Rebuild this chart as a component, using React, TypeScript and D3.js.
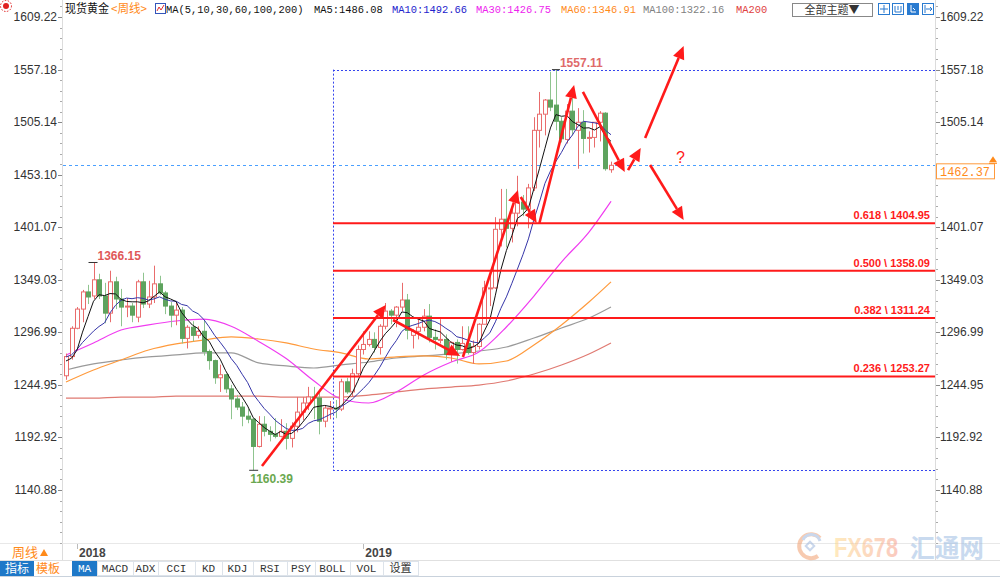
import React from 'react';
import * as d3 from 'd3';

// weekly XAU/USD, first candle = week of 2017-12-18
const priorCloses = [1280, 1266, 1269, 1275, 1293, 1287, 1280, 1248, 1255];
const opens = [1254, 1273, 1301, 1320, 1337, 1333, 1349, 1333, 1316, 1347, 1330, 1322, 1323, 1312, 1347, 1325, 1332, 1345, 1336, 1323,
  1314, 1319, 1291, 1302, 1294, 1298, 1278, 1269, 1252, 1255, 1241, 1231, 1223, 1214, 1211, 1184, 1206, 1199, 1196, 1194,
  1199, 1192, 1204, 1218, 1227, 1233, 1232, 1209, 1222, 1222, 1221, 1248, 1238, 1256, 1280, 1285, 1290, 1282, 1303, 1318,
  1314, 1322, 1329, 1294, 1298, 1302, 1313, 1292, 1290, 1290, 1275, 1287, 1280, 1286, 1277, 1283, 1305, 1341, 1341, 1399,
  1409, 1400, 1415, 1426, 1419, 1440, 1497, 1513, 1527, 1522, 1506, 1488, 1516, 1497, 1505, 1489, 1490, 1505, 1514, 1458];
const highs = [1276, 1303, 1322, 1339, 1344, 1366.15, 1355, 1346, 1358, 1352, 1340, 1331, 1326, 1349, 1356, 1348, 1363, 1353, 1338, 1327,
  1326, 1322, 1304, 1308, 1303, 1309, 1280, 1270, 1265, 1256, 1245, 1235, 1228, 1221, 1212, 1214, 1214, 1204, 1212, 1211,
  1207, 1208, 1233, 1233, 1243, 1243, 1237, 1225, 1229, 1230, 1251, 1252, 1261, 1284, 1298, 1298, 1297, 1305, 1326, 1320,
  1323, 1346, 1335, 1300, 1311, 1320, 1325, 1300, 1310, 1295, 1288, 1290, 1303, 1303, 1289, 1306, 1348, 1358, 1411, 1439,
  1439, 1420, 1452, 1433, 1444, 1510, 1535, 1528, 1555, 1557.11, 1510, 1523, 1535, 1519, 1517, 1496, 1505, 1516, 1515, 1466];
const lows = [1250, 1270, 1300, 1307, 1325, 1330, 1330, 1306, 1307, 1320, 1303, 1312, 1307, 1307, 1321, 1321, 1326, 1334, 1315, 1302,
  1304, 1286, 1281, 1288, 1291, 1274, 1260, 1246, 1238, 1237, 1211, 1220, 1204, 1207, 1160.39, 1183, 1194, 1189, 1192, 1193,
  1181, 1183, 1198, 1210, 1220, 1211, 1196, 1203, 1211, 1212, 1219, 1236, 1234, 1254, 1275, 1283, 1277, 1275, 1300, 1305,
  1302, 1318, 1290, 1281, 1290, 1298, 1287, 1280, 1286, 1270, 1268, 1266, 1279, 1275, 1266, 1280, 1305, 1323, 1340, 1382,
  1381, 1386, 1402, 1412, 1400, 1437, 1480, 1492, 1516, 1497, 1485, 1484, 1492, 1459, 1474, 1475, 1480, 1486, 1457, 1455];
const closes = [1273, 1301, 1320, 1337, 1332, 1349, 1333, 1316, 1347, 1330, 1322, 1323, 1314, 1347, 1325, 1332, 1345, 1336, 1323, 1314,
  1319, 1291, 1302, 1294, 1298, 1278, 1269, 1252, 1255, 1241, 1231, 1223, 1214, 1211, 1184, 1206, 1199, 1196, 1194, 1199,
  1192, 1204, 1218, 1227, 1233, 1232, 1209, 1222, 1222, 1221, 1248, 1238, 1256, 1280, 1285, 1290, 1282, 1303, 1318, 1314,
  1322, 1329, 1299, 1298, 1302, 1313, 1292, 1290, 1290, 1275, 1287, 1280, 1286, 1277, 1283, 1305, 1341, 1341, 1399, 1409,
  1400, 1415, 1426, 1419, 1440, 1497, 1513, 1527, 1520, 1506, 1488.6, 1516, 1497.6, 1505, 1489, 1490, 1505, 1514, 1459, 1462.37];

// longer moving averages, every 5 weeks
const maSampleIdx = [0, 5, 10, 15, 20, 25, 30, 35, 40, 45, 50, 55, 60, 65, 70, 75, 80, 85, 90, 95, 99];
const ma30 = [1274.5, 1286.5, 1299.3, 1304.3, 1308.2, 1310, 1303, 1288, 1271, 1249, 1231, 1227, 1237.9, 1254.8, 1267.6, 1277.5, 1302.3, 1332.9, 1366.6, 1396.3, 1426.75];
const ma60 = [1247.8, 1259.7, 1269.6, 1279.5, 1285.5, 1289.4, 1292.4, 1290.4, 1286.5, 1280.5, 1276.6, 1270.6, 1272.6, 1273.6, 1271.6, 1265.7, 1268.6, 1284.5, 1304.3, 1327.0, 1346.91];
const ma100 = [1259.7, 1265.7, 1269.6, 1272.6, 1274.6, 1276.6, 1276.6, 1266.7, 1263.7, 1261.7, 1264.7, 1267.6, 1271.6, 1273.6, 1275.6, 1278.5, 1282.5, 1291.4, 1301.3, 1311.2, 1322.16];
const ma200 = [1231.9, 1231.9, 1232.9, 1232.9, 1233.9, 1233.9, 1233.9, 1233.9, 1232.9, 1232.9, 1232.9, 1234.9, 1237.9, 1240.8, 1242.8, 1244.8, 1248.8, 1255.7, 1264.7, 1275.6, 1286.5];

const yTicks = [1609.22, 1557.18, 1505.14, 1453.10, 1401.07, 1349.03, 1296.99, 1244.95, 1192.92, 1140.88];
const yearIdx = [2, 54];
const yearLabels = ['2018', '2019'];
const fibRatios = ['0.618', '0.500', '0.382', '0.236'];
const fibPrices = [1404.95, 1358.09, 1311.24, 1253.27];
const lastPrice = 1462.37;
const boxStartIdx = 48.5;
const rangeHigh = 1557.11;
const rangeLow = 1160.39;

// hand-drawn arrows, [week index, price] -> [week index, price]
const arrowFrom = [[35.6, 1164.7], [59.4, 1309.2], [72.1, 1272.6], [82.6, 1431], [86.0, 1405.2], [93.9, 1535], [102.1, 1457.7], [105.2, 1489.4], [106.1, 1462.7]];
const arrowTo = [[58.1, 1324.1], [71.6, 1273.6], [82.1, 1437.9], [85.5, 1405.2], [92.3, 1541.9], [101.5, 1455.8], [104.4, 1479.5], [112.2, 1580.5], [112.2, 1408.2]];

const legendTexts = ['MA(5,10,30,60,100,200)', 'MA5:1486.08', 'MA10:1492.66', 'MA30:1426.75', 'MA60:1346.91', 'MA100:1322.16', 'MA200'];
const toolLabels = ['MACD', 'ADX', 'CCI', 'KD', 'KDJ', 'RSI', 'PSY', 'BOLL', 'VOL', '设置'];

const UP = '#e96c6c';
const DOWN = '#5ea35e';
const MONO = '"Liberation Mono", "DejaVu Sans Mono", monospace';
const SANS = '"Liberation Sans", Arial, sans-serif';
const CJK = '"Noto Sans CJK SC", sans-serif';

const x = d3.scaleLinear().domain([0, 99]).range([66, 611]);
const y = d3.scaleLinear().domain([1140.88, 1609.22]).range([490, 17]);

const allCloses = [...priorCloses, ...closes];
const movingAvg = (n: number) =>
  closes.map((_, i) => d3.mean(allCloses.slice(i + priorCloses.length - n + 1, i + priorCloses.length + 1)) as number);
const ma5 = movingAvg(5);
const ma10 = movingAvg(10);

const fullLine = d3.line<number>().x((_, i) => x(i)).y(v => y(v));
const sampledLine = d3.line<number>().x((_, k) => x(maSampleIdx[k])).y(v => y(v)).curve(d3.curveMonotoneX);

const Arrow = ({ from, to }: { from: number[]; to: number[] }) => {
  const x1 = x(from[0]), y1 = y(from[1]), x2 = x(to[0]), y2 = y(to[1]);
  const a = Math.atan2(y2 - y1, x2 - x1);
  const len = 13, hw = 6;
  const bx = x2 - len * Math.cos(a), by = y2 - len * Math.sin(a);
  const px = -Math.sin(a) * hw, py = Math.cos(a) * hw;
  return (
    <g>
      <line x1={x1} y1={y1} x2={bx} y2={by} stroke="#ff1a1a" strokeWidth={2.6} />
      <polygon points={`${x2},${y2} ${bx + px},${by + py} ${bx - px},${by - py}`} fill="#ff1a1a" />
    </g>
  );
};

const App = () => {
  const minor = d3.range(0, 9).flatMap(k => d3.range(1, 5).map(j => yTicks[k] - (j * (yTicks[k] - yTicks[k + 1])) / 5));
  minor.push(...[1, 2].map(j => yTicks[0] + (j * 52.04) / 5));
  minor.push(...[1, 2, 3, 4, 5].map(j => yTicks[9] - (j * 52.04) / 5));
  const legendX = [166, 314, 392, 476, 561, 643, 736];
  const legendColors = ['#111', '#111', '#2222cc', '#ee22ee', '#ff8a1a', '#808080', '#e04040'];
  const toolEdges = [97, 133, 158, 195, 222, 253, 287, 315, 350, 383, 418];
  const tagY = y(lastPrice) + 6;

  return (
    <svg width={1000} height={577} style={{ position: 'absolute', left: 0, top: 0, background: '#fff' }}>
      <defs>
        <linearGradient id="fxg" x1="0" x2="1" y1="0" y2="0">
          <stop offset="0" stopColor="#ffd98a" />
          <stop offset="1" stopColor="#f7a08c" />
        </linearGradient>
      </defs>
      <rect width={1000} height={577} fill="#fff" />

      {/* frame lines */}
      <line x1={62.5} x2={62.5} y1={0} y2={560} stroke="#dcdcdc" />
      <line x1={935.5} x2={935.5} y1={0} y2={560} stroke="#dcdcdc" />
      <line x1={0} x2={1000} y1={543.5} y2={543.5} stroke="#e8e8e8" />
      <line x1={0} x2={1000} y1={560.5} y2={560.5} stroke="#e0e0e0" />

      {/* axes */}
      {yTicks.map(t => (
        <g key={t}>
          <text x={57} y={y(t) + 4} textAnchor="end" fontFamily={SANS} fontSize={12} fill="#333">{t.toFixed(2)}</text>
          <line x1={58} x2={62} y1={Math.round(y(t)) + 0.5} y2={Math.round(y(t)) + 0.5} stroke="#888" />
          <line x1={936} x2={940} y1={Math.round(y(t)) + 0.5} y2={Math.round(y(t)) + 0.5} stroke="#888" />
          {Math.abs(y(t) - tagY) > 10 && (
            <text x={940} y={y(t) + 4} fontFamily={SANS} fontSize={12} fill="#333">{t.toFixed(2)}</text>
          )}
        </g>
      ))}
      {minor.map((t, k) => (
        <g key={k}>
          <line x1={60} x2={62} y1={Math.round(y(t)) + 0.5} y2={Math.round(y(t)) + 0.5} stroke="#aaa" />
          <line x1={936} x2={938} y1={Math.round(y(t)) + 0.5} y2={Math.round(y(t)) + 0.5} stroke="#aaa" />
        </g>
      ))}

      {/* last price line and box */}
      <line x1={63} x2={935} y1={Math.round(y(lastPrice)) + 0.5} y2={Math.round(y(lastPrice)) + 0.5} stroke="#4aa0ff" strokeDasharray="3,3" />
      <line x1={x(boxStartIdx)} x2={935} y1={Math.round(y(rangeHigh)) + 0.5} y2={Math.round(y(rangeHigh)) + 0.5} stroke="#3344ee" strokeDasharray="2,2" />
      <line x1={x(boxStartIdx)} x2={935} y1={Math.round(y(rangeLow)) + 0.5} y2={Math.round(y(rangeLow)) + 0.5} stroke="#3344ee" strokeDasharray="2,2" />
      <line x1={Math.round(x(boxStartIdx)) + 0.5} x2={Math.round(x(boxStartIdx)) + 0.5} y1={y(rangeHigh)} y2={y(rangeLow)} stroke="#3344ee" strokeDasharray="2,2" />

      {/* moving averages */}
      <path d={sampledLine(ma200) || ''} fill="none" stroke="#e07a72" strokeWidth={1.2} />
      <path d={sampledLine(ma100) || ''} fill="none" stroke="#9a9a9a" strokeWidth={1.2} />
      <path d={sampledLine(ma60) || ''} fill="none" stroke="#ff9a3c" strokeWidth={1.2} />
      <path d={sampledLine(ma30) || ''} fill="none" stroke="#f03cf0" strokeWidth={1.2} />

      {/* candles */}
      {closes.map((c, i) => {
        const o = opens[i];
        const up = c >= o;
        const cx = Math.round(x(i)) + 0.5;
        const top = y(Math.max(o, c)), bot = y(Math.min(o, c));
        const col = up ? UP : DOWN;
        return (
          <g key={i}>
            <line x1={cx} x2={cx} y1={y(highs[i])} y2={y(lows[i])} stroke={up ? UP : '#8fc48f'} />
            <rect x={cx - 2} y={top} width={4} height={Math.max(1, bot - top)} fill={up ? '#fff' : col} stroke={col} strokeWidth={1} />
          </g>
        );
      })}

      <path d={fullLine(ma10) || ''} fill="none" stroke="#3535a8" strokeWidth={1} />
      <path d={fullLine(ma5) || ''} fill="none" stroke="#111" strokeWidth={1} />

      {/* fibonacci levels */}
      {fibPrices.map((p, k) => (
        <g key={p}>
          <line x1={x(boxStartIdx)} x2={935} y1={y(p)} y2={y(p)} stroke="#ff1a1a" strokeWidth={2} />
          <text x={930} y={y(p) - 4} textAnchor="end" fontFamily={SANS} fontWeight="bold" fontSize={11} fill="#ff1a1a">
            {`${fibRatios[k]} \\ ${p.toFixed(2)}`}
          </text>
        </g>
      ))}

      {/* extremes */}
      <line x1={x(5) - 5} x2={x(5) + 4} y1={y(1366.15)} y2={y(1366.15)} stroke="#333" />
      <text x={x(5) + 4} y={y(1366.15) - 2} fontFamily={SANS} fontWeight="bold" fontSize={12} fill="#e05858">1366.15</text>
      <line x1={x(34) - 4} x2={x(34) + 5} y1={y(1160.39)} y2={y(1160.39)} stroke="#333" />
      <text x={x(34) - 3} y={y(1160.39) + 13} fontFamily={SANS} fontWeight="bold" fontSize={12} fill="#6aa84f">1160.39</text>
      <line x1={x(89) - 4} x2={x(89) + 4} y1={y(1557.11)} y2={y(1557.11)} stroke="#333" />
      <text x={x(89) + 4} y={y(1557.11) - 3} fontFamily={SANS} fontWeight="bold" fontSize={12} fill="#e06a6a">1557.11</text>

      {/* drawn arrows */}
      {arrowFrom.map((f, k) => <Arrow key={k} from={f} to={arrowTo[k]} />)}
      <text x={x(110.8)} y={y(1470.6) + 6} fontFamily={SANS} fontSize={16} fill="#ff1a1a">?</text>

      {/* last price tag */}
      <rect x={936.5} y={tagY - 7.5} width={58} height={15} fill="#fff" stroke="#ff9a3c" />
      <text x={940} y={tagY + 4.5} fontFamily={MONO} fontSize={12} fill="#ff8a1a" textLength={50} lengthAdjust="spacingAndGlyphs">1462.37</text>
      <polygon points={`989,${tagY - 9} 993,${tagY - 15} 997,${tagY - 9}`} fill="#ff8a1a" />
      <line x1={989} x2={997} y1={tagY - 8} y2={tagY - 8} stroke="#ff8a1a" />

      {/* top legend */}
      <circle cx={6} cy={6} r={3} fill="#e02020" />
      <circle cx={6} cy={6} r={5.5} fill="none" stroke="#e02020" strokeDasharray="1.5,1.5" />
      <text x={65} y={13} fontFamily={CJK} fontSize={12} fill="#111" textLength={44} lengthAdjust="spacingAndGlyphs">现货黄金</text>
      <text x={111} y={13} fontFamily={CJK} fontSize={12} fill="#ff8a1a" textLength={36} lengthAdjust="spacingAndGlyphs">{'<周线>'}</text>
      <rect x={155.5} y={3.5} width={10} height={10} fill="#fff" stroke="#3355bb" />
      <polyline points="157,11 159,7 161,10 164,5" fill="none" stroke="#e03030" />
      {legendTexts.map((t, k) => (
        <text key={t} x={legendX[k]} y={13} fontFamily={MONO} fontSize={11} fill={legendColors[k]} textLength={t.length * 6.25} lengthAdjust="spacingAndGlyphs">{t}</text>
      ))}
      <rect x={792.5} y={3.5} width={80} height={13} fill="#fff" stroke="#888" />
      <text x={832} y={14} textAnchor="middle" fontFamily={CJK} fontSize={11} fill="#333">全部主题▼</text>
      {[878, 892, 907, 922].map((bx, k) => (
        <g key={bx}>
          <rect x={bx + 0.5} y={3.5} width={11} height={11} fill={k === 2 ? '#2a7bd0' : '#fff'} stroke="#2a7bd0" />
          {k === 0 && <path d={`M${bx + 6},5 V13 M${bx + 2},9 H${bx + 10}`} stroke="#2a7bd0" />}
          {k === 1 && <path d={`M${bx + 3},6 V12 H${bx + 9} V6 M${bx + 6},6 V10`} stroke="#2a7bd0" fill="none" />}
          {k === 2 && <path d={`M${bx + 4},5 V12 H${bx + 9} M${bx + 6},8 l2,2`} stroke="#fff" fill="none" />}
          {k === 3 && <path d={`M${bx + 3},5 V13 M${bx + 4},9 H${bx + 10} M${bx + 8},7 l2,2 l-2,2`} stroke="#2a7bd0" fill="none" />}
        </g>
      ))}

      {/* date axis */}
      {yearIdx.map((i, k) => (
        <g key={i}>
          <line x1={Math.round(x(i)) + 0.5} x2={Math.round(x(i)) + 0.5} y1={544} y2={549} stroke="#bbb" />
          <text x={x(i) + 2} y={557} fontFamily={SANS} fontWeight="bold" fontSize={12} fill="#444">{yearLabels[k]}</text>
        </g>
      ))}
      <text x={12} y={557} fontFamily={CJK} fontSize={13} fill="#ff8a1a">周线</text>
      <polygon points="40,556 44,549 48,556" fill="#ff8a1a" />

      {/* bottom toolbar */}
      <rect x={0} y={561} width={34} height={15} fill="#1e78c8" />
      <text x={17} y={573} textAnchor="middle" fontFamily={CJK} fontSize={12} fill="#fff">指标</text>
      <text x={48} y={573} textAnchor="middle" fontFamily={CJK} fontSize={12} fill="#ff8a1a">模板</text>
      <rect x={72} y={561} width={25} height={15} fill="#1e78c8" />
      <text x={84.5} y={572} textAnchor="middle" fontFamily={MONO} fontSize={11} fill="#fff">MA</text>
      {toolLabels.map((t, k) => (
        <g key={t}>
          <rect x={toolEdges[k] + 0.5} y={561.5} width={toolEdges[k + 1] - toolEdges[k]} height={14} fill="#fff" stroke="#dde3ea" />
          <text x={(toolEdges[k] + toolEdges[k + 1]) / 2} y={572} textAnchor="middle" fontFamily={k === 9 ? CJK : MONO} fontSize={11} fill="#333">{t}</text>
        </g>
      ))}
      <line x1={0} x2={1000} y1={576.5} y2={576.5} stroke="#c9d2dc" />

      {/* watermark */}
      <g opacity={0.55}>
        <path d="M 820 538 A 12 12 0 1 0 818 556" fill="none" stroke="#f2a070" strokeWidth={4} />
        <path d="M 803 540 A 9 9 0 0 1 820 541" fill="none" stroke="#9fb8de" strokeWidth={3} />
        <rect x={807} y={543} width={6} height={6} fill="none" stroke="#9fb8de" strokeWidth={2} transform="rotate(45 810 546)" />
        <text x={834} y={557} fontFamily={SANS} fontWeight="bold" fontSize={28} fill="url(#fxg)" textLength={64} lengthAdjust="spacingAndGlyphs">FX678</text>
        <text x={910} y={557} fontFamily={CJK} fontWeight="bold" fontSize={25} fill="#9dbde3" textLength={74} lengthAdjust="spacingAndGlyphs">汇通网</text>
      </g>
    </svg>
  );
};

export default App;
